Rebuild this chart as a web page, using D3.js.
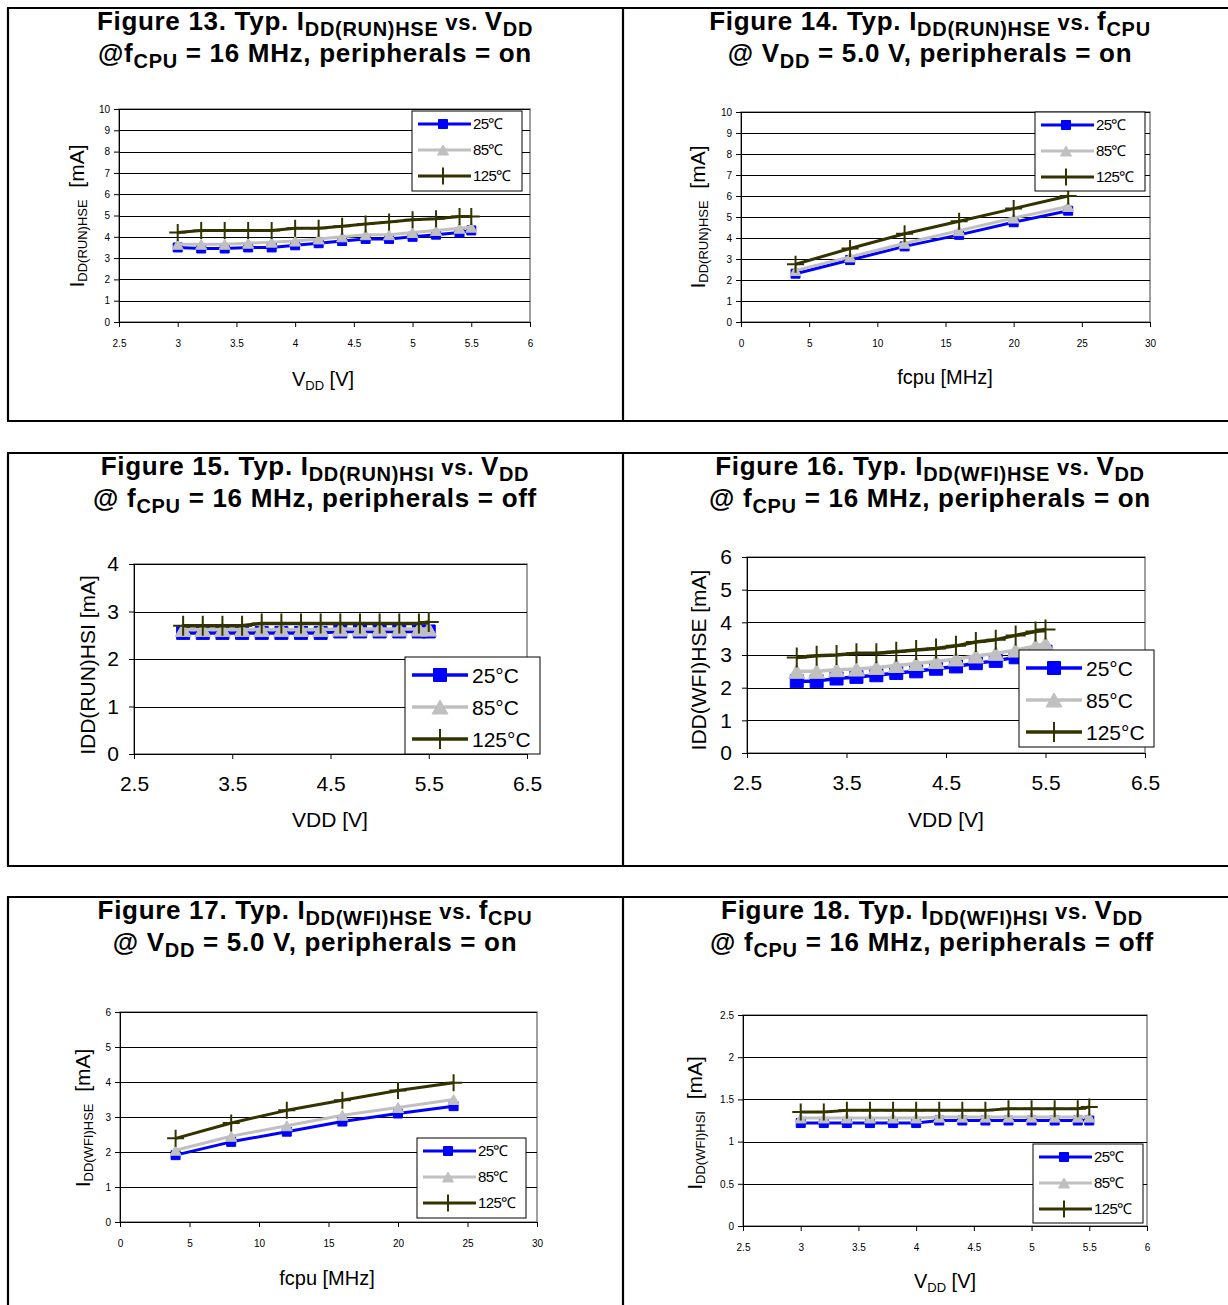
<!DOCTYPE html>
<html>
<head>
<meta charset="utf-8">
<script src="https://cdn.jsdelivr.net/npm/d3@7"></script>
<style>
body { margin: 0; background: #fff; }
svg text { font-family: "Liberation Sans", Arial, sans-serif; }
</style>
</head>
<body>
<svg id="chart" width="1228" height="1305"></svg>
<script>
// x values
const vddPoints = [3.0, 3.2, 3.4, 3.6, 3.8, 4.0, 4.2, 4.4, 4.6, 4.8, 5.0, 5.2, 5.4, 5.5];
const fcpuPoints = [4, 8, 12, 16, 20, 24];

// legend labels
const legendSmall = ['25\u2103', '85\u2103', '125\u2103'];
const legendBig = ['25°C', '85°C', '125°C'];

// tick values
const ticksVdd05 = [2.5, 3, 3.5, 4, 4.5, 5, 5.5, 6];
const ticksVdd1 = [2.5, 3.5, 4.5, 5.5, 6.5];
const ticksFcpu = [0, 5, 10, 15, 20, 25, 30];
const ticks0to10 = [0, 1, 2, 3, 4, 5, 6, 7, 8, 9, 10];
const ticks0to6 = [0, 1, 2, 3, 4, 5, 6];
const ticks0to4 = [0, 1, 2, 3, 4];
const ticks0to25 = [0, 0.5, 1, 1.5, 2, 2.5];

// Figure 13 - IDD(RUN)HSE vs VDD
const f13_25 = [3.5, 3.45, 3.45, 3.5, 3.5, 3.6, 3.7, 3.8, 3.9, 3.9, 4.0, 4.1, 4.2, 4.3];
const f13_85 = [3.65, 3.65, 3.65, 3.7, 3.75, 3.8, 3.9, 4.0, 4.1, 4.1, 4.2, 4.3, 4.4, 4.45];
const f13_125 = [4.2, 4.3, 4.3, 4.3, 4.3, 4.4, 4.4, 4.5, 4.6, 4.7, 4.8, 4.85, 4.95, 4.95];
// Figure 14 - IDD(RUN)HSE vs fCPU
const f14_25 = [2.3, 2.95, 3.6, 4.15, 4.75, 5.3];
const f14_85 = [2.45, 3.1, 3.75, 4.35, 4.95, 5.5];
const f14_125 = [2.75, 3.5, 4.2, 4.8, 5.4, 6.0];
// Figure 15 - IDD(RUN)HSI vs VDD
const f15_25 = [2.55, 2.55, 2.55, 2.55, 2.55, 2.55, 2.55, 2.55, 2.58, 2.58, 2.58, 2.58, 2.58, 2.58];
const f15_85 = [2.62, 2.62, 2.62, 2.62, 2.62, 2.62, 2.62, 2.62, 2.63, 2.63, 2.63, 2.63, 2.63, 2.63];
const f15_125 = [2.7, 2.7, 2.7, 2.7, 2.75, 2.75, 2.75, 2.75, 2.75, 2.75, 2.75, 2.75, 2.75, 2.78];
// Figure 16 - IDD(WFI)HSE vs VDD
const f16_25 = [2.2, 2.2, 2.28, 2.33, 2.38, 2.45, 2.5, 2.58, 2.65, 2.75, 2.82, 2.93, 3.05, 3.1];
const f16_85 = [2.5, 2.5, 2.55, 2.57, 2.62, 2.68, 2.74, 2.8, 2.88, 2.97, 3.05, 3.15, 3.28, 3.35];
const f16_125 = [2.92, 2.98, 3.0, 3.05, 3.05, 3.1, 3.15, 3.2, 3.28, 3.4, 3.47, 3.6, 3.72, 3.78];
// Figure 17 - IDD(WFI)HSE vs fCPU
const f17_25 = [1.91, 2.29, 2.58, 2.87, 3.1, 3.31];
const f17_85 = [2.05, 2.45, 2.75, 3.05, 3.27, 3.5];
const f17_125 = [2.39, 2.83, 3.19, 3.48, 3.76, 3.98];
// Figure 18 - IDD(WFI)HSI vs VDD
const f18_25 = [1.22, 1.22, 1.22, 1.22, 1.22, 1.22, 1.25, 1.25, 1.25, 1.25, 1.25, 1.25, 1.25, 1.25];
const f18_85 = [1.28, 1.28, 1.28, 1.28, 1.28, 1.28, 1.29, 1.29, 1.29, 1.29, 1.29, 1.29, 1.29, 1.29];
const f18_125 = [1.35, 1.35, 1.37, 1.37, 1.37, 1.37, 1.37, 1.37, 1.37, 1.39, 1.39, 1.39, 1.39, 1.41];

const colors = ['#0000ff', '#c0c0c0', '#333300'];

// kind: 0 normal, 1 subscript, 2 smaller ("vs.")
const panels = [
  {
    title1: [['Figure 13. Typ. I', 0], ['DD(RUN)HSE', 1], [' vs. ', 2], ['V', 0], ['DD', 1]],
    title2: [['@f', 0], ['CPU', 1], [' = 16 MHz, peripherals = on', 0]],
    cx: 315, ty: 30,
    plot: { l: 119, r: 530, t: 109, b: 322 },
    xs: vddPoints, xDomain: [2.5, 6], xTicks: ticksVdd05, yDomain: [0, 10], yTicks: ticks0to10,
    big: false, legend: { x: 412, y: 111, w: 110, h: 80 }, labels: legendSmall,
    yTitle: { pieces: [['I', 0], ['DD(RUN)HSE', 1], ['\u00a0\u00a0[mA]', 0]], x: 84, y: 216 },
    xTitle: { pieces: [['V', 0], ['DD', 1], ['\u00a0[V]', 0]], x: 323, y: 386 },
    series: [f13_25, f13_85, f13_125]
  },
  {
    title1: [['Figure 14. Typ. I', 0], ['DD(RUN)HSE', 1], [' vs. ', 2], ['f', 0], ['CPU', 1]],
    title2: [['@ V', 0], ['DD', 1], [' = 5.0 V, peripherals = on', 0]],
    cx: 930, ty: 30,
    plot: { l: 741, r: 1150, t: 112, b: 322 },
    xs: fcpuPoints, xDomain: [0, 30], xTicks: ticksFcpu, yDomain: [0, 10], yTicks: ticks0to10,
    big: false, legend: { x: 1035, y: 112, w: 110, h: 79 }, labels: legendSmall,
    yTitle: { pieces: [['I', 0], ['DD(RUN)HSE', 1], ['\u00a0\u00a0[mA]', 0]], x: 705, y: 217 },
    xTitle: { pieces: [['fcpu\u00a0[MHz]', 0]], x: 945, y: 384 },
    series: [f14_25, f14_85, f14_125]
  },
  {
    title1: [['Figure 15. Typ. I', 0], ['DD(RUN)HSI', 1], [' vs. ', 2], ['V', 0], ['DD', 1]],
    title2: [['@ f', 0], ['CPU', 1], [' = 16 MHz, peripherals = off', 0]],
    cx: 315, ty: 475,
    plot: { l: 134, r: 527, t: 564, b: 754 },
    xs: vddPoints, xDomain: [2.5, 6.5], xTicks: ticksVdd1, yDomain: [0, 4], yTicks: ticks0to4,
    big: true, legend: { x: 405, y: 657, w: 135, h: 97 }, labels: legendBig,
    yTitle: { pieces: [['IDD(RUN)HSI [mA]', 0]], x: 95, y: 665 },
    xTitle: { pieces: [['VDD [V]', 0]], x: 330, y: 827 },
    series: [f15_25, f15_85, f15_125]
  },
  {
    title1: [['Figure 16. Typ. I', 0], ['DD(WFI)HSE', 1], [' vs. ', 2], ['V', 0], ['DD', 1]],
    title2: [['@ f', 0], ['CPU', 1], [' = 16 MHz, peripherals = on', 0]],
    cx: 930, ty: 475,
    plot: { l: 747, r: 1145, t: 557, b: 753 },
    xs: vddPoints, xDomain: [2.5, 6.5], xTicks: ticksVdd1, yDomain: [0, 6], yTicks: ticks0to6,
    big: true, legend: { x: 1019, y: 650, w: 135, h: 97 }, labels: legendBig,
    yTitle: { pieces: [['IDD(WFI)HSE [mA]', 0]], x: 706, y: 660 },
    xTitle: { pieces: [['VDD [V]', 0]], x: 946, y: 827 },
    series: [f16_25, f16_85, f16_125]
  },
  {
    title1: [['Figure 17. Typ. I', 0], ['DD(WFI)HSE', 1], [' vs. ', 2], ['f', 0], ['CPU', 1]],
    title2: [['@ V', 0], ['DD', 1], [' = 5.0 V, peripherals = on', 0]],
    cx: 315, ty: 919,
    plot: { l: 120, r: 537, t: 1012, b: 1222 },
    xs: fcpuPoints, xDomain: [0, 30], xTicks: ticksFcpu, yDomain: [0, 6], yTicks: ticks0to6,
    big: false, legend: { x: 417, y: 1138, w: 109, h: 80 }, labels: legendSmall,
    yTitle: { pieces: [['I', 0], ['DD(WFI)HSE', 1], ['\u00a0\u00a0[mA]', 0]], x: 90, y: 1118 },
    xTitle: { pieces: [['fcpu\u00a0[MHz]', 0]], x: 327, y: 1285 },
    series: [f17_25, f17_85, f17_125]
  },
  {
    title1: [['Figure 18. Typ. I', 0], ['DD(WFI)HSI', 1], [' vs. ', 2], ['V', 0], ['DD', 1]],
    title2: [['@ f', 0], ['CPU', 1], [' = 16 MHz, peripherals = off', 0]],
    cx: 932, ty: 919,
    plot: { l: 743, r: 1147, t: 1015, b: 1226 },
    xs: vddPoints, xDomain: [2.5, 6], xTicks: ticksVdd05, yDomain: [0, 2.5], yTicks: ticks0to25,
    big: false, legend: { x: 1033, y: 1144, w: 110, h: 79 }, labels: legendSmall,
    yTitle: { pieces: [['I', 0], ['DD(WFI)HSI', 1], ['\u00a0\u00a0[mA]', 0]], x: 702, y: 1123 },
    xTitle: { pieces: [['V', 0], ['DD', 1], ['\u00a0[V]', 0]], x: 945, y: 1288 },
    series: [f18_25, f18_85, f18_125]
  }
];

const svg = d3.select('#chart');

// writes text made of normal / subscript pieces
function richText(text, pieces, size, subSize, smallSize, shift) {
  let offset = 0;
  pieces.forEach(([str, kind]) => {
    const want = kind === 1 ? shift : 0;
    text.append('tspan')
      .attr('dy', want - offset)
      .attr('font-size', kind === 1 ? subSize : (kind === 2 ? smallSize : size))
      .text(str);
    offset = want;
  });
}

function markerPath(i, big) {
  const s = big ? 6.5 : 4.5;
  if (i === 0) return `M${-s},${-s}H${s}V${s}H${-s}Z`;
  if (i === 1) {
    const w = big ? 8 : 5.5, h = big ? 7 : 5;
    return `M0,${-h}L${w},${h}L${-w},${h}Z`;
  }
  const p = big ? 10 : 8.5;
  return `M${-p},0H${p}M0,${-p}V${p}`;
}

function drawMarker(g, i, big, x, y) {
  const m = g.append('path')
    .attr('transform', `translate(${x},${y})`)
    .attr('d', markerPath(i, big));
  if (i === 2) m.attr('fill', 'none').attr('stroke', colors[2]).attr('stroke-width', 2);
  else m.attr('fill', colors[i]).attr('stroke', colors[i]).attr('stroke-width', 1);
}

// frame lines of the figure table
const frame = svg.append('g').attr('stroke', '#000').attr('stroke-width', 2.2);
[8, 421, 453, 866, 897].forEach(y => {
  frame.append('line').attr('x1', 7).attr('x2', 1228).attr('y1', y).attr('y2', y);
});
[[8, 421], [453, 866], [897, 1305]].forEach(([a, b]) => {
  [8, 623].forEach(x => {
    frame.append('line').attr('x1', x).attr('x2', x).attr('y1', a).attr('y2', b);
  });
});

panels.forEach(p => {
  const g = svg.append('g');
  const big = p.big;
  const tickFont = big ? 21 : 10;

  // title
  const t1 = g.append('text').attr('x', p.cx).attr('y', p.ty)
    .attr('text-anchor', 'middle').attr('font-weight', 'bold').attr('letter-spacing', 0.7);
  richText(t1, p.title1, 26, 20, 22, 6);
  const t2 = g.append('text').attr('x', p.cx).attr('y', p.ty + 32)
    .attr('text-anchor', 'middle').attr('font-weight', 'bold').attr('letter-spacing', 0.7);
  richText(t2, p.title2, 26, 20, 22, 6);

  const x = d3.scaleLinear().domain(p.xDomain).range([p.plot.l, p.plot.r]);
  const y = d3.scaleLinear().domain(p.yDomain).range([p.plot.b, p.plot.t]);

  // plot area border
  g.append('rect')
    .attr('x', p.plot.l).attr('y', p.plot.t)
    .attr('width', p.plot.r - p.plot.l).attr('height', p.plot.b - p.plot.t)
    .attr('fill', 'none').attr('stroke', '#808080').attr('stroke-width', 1.5);

  // gridlines
  g.append('g').selectAll('line')
    .data(p.yTicks.filter(v => v > 0))
    .enter().append('line')
    .attr('x1', p.plot.l).attr('x2', p.plot.r)
    .attr('y1', d => Math.round(y(d)) + 0.5).attr('y2', d => Math.round(y(d)) + 0.5)
    .attr('stroke', '#000').attr('stroke-width', 1);

  const fmt = d3.format('~g');
  const yAxis = g.append('g')
    .attr('transform', `translate(${p.plot.l},0)`)
    .call(d3.axisLeft(y).tickValues(p.yTicks).tickFormat(fmt)
      .tickSize(5).tickSizeOuter(0).tickPadding(big ? 10 : 4));
  const xAxis = g.append('g')
    .attr('transform', `translate(0,${p.plot.b})`)
    .call(d3.axisBottom(x).tickValues(p.xTicks).tickFormat(fmt)
      .tickSize(5).tickSizeOuter(0).tickPadding(big ? 17 : 13));
  [yAxis, xAxis].forEach(a => {
    a.attr('font-family', null).attr('font-size', tickFont);
    a.selectAll('text').attr('fill', '#000');
    a.selectAll('line, path').attr('stroke', '#000').attr('stroke-width', 1);
  });

  // series
  const line = d3.line().x(d => x(d[0])).y(d => y(d[1]));
  p.series.forEach((vals, i) => {
    const pts = p.xs.map((v, k) => [v, vals[k]]);
    g.append('path').datum(pts)
      .attr('d', line)
      .attr('fill', 'none')
      .attr('stroke', colors[i])
      .attr('stroke-width', big ? 3.5 : 3)
      .attr('stroke-linejoin', 'round');
    pts.forEach(d => drawMarker(g, i, big, x(d[0]), y(d[1])));
  });

  // legend
  const L = p.legend;
  g.append('rect').attr('x', L.x).attr('y', L.y).attr('width', L.w).attr('height', L.h)
    .attr('fill', '#fff').attr('stroke', '#000').attr('stroke-width', 1);
  const rows = big ? [18, 50, 82] : [13, 39, 65];
  p.labels.forEach((lab, i) => {
    const ry = L.y + rows[i];
    const x0 = L.x + (big ? 7 : 6), x1 = L.x + (big ? 63 : 59), mx = L.x + (big ? 35 : 31);
    g.append('line').attr('x1', x0).attr('x2', x1).attr('y1', ry).attr('y2', ry)
      .attr('stroke', colors[i]).attr('stroke-width', big ? 3.5 : 3);
    drawMarker(g, i, big, mx, ry);
    g.append('text').attr('x', L.x + (big ? 67 : 61)).attr('y', ry)
      .attr('dy', '0.36em')
      .attr('font-size', big ? 21 : 15)
      .attr('letter-spacing', big ? 0 : -0.6)
      .text(lab);
  });

  // axis titles
  const yt = g.append('text')
    .attr('transform', `translate(${p.yTitle.x},${p.yTitle.y}) rotate(-90)`)
    .attr('text-anchor', 'middle');
  richText(yt, p.yTitle.pieces, 21, 13, 21, 3);
  const xt = g.append('text').attr('x', p.xTitle.x).attr('y', p.xTitle.y)
    .attr('text-anchor', 'middle');
  richText(xt, p.xTitle.pieces, big ? 21 : 20, 13, 20, 4);
});
</script>
</body>
</html>
